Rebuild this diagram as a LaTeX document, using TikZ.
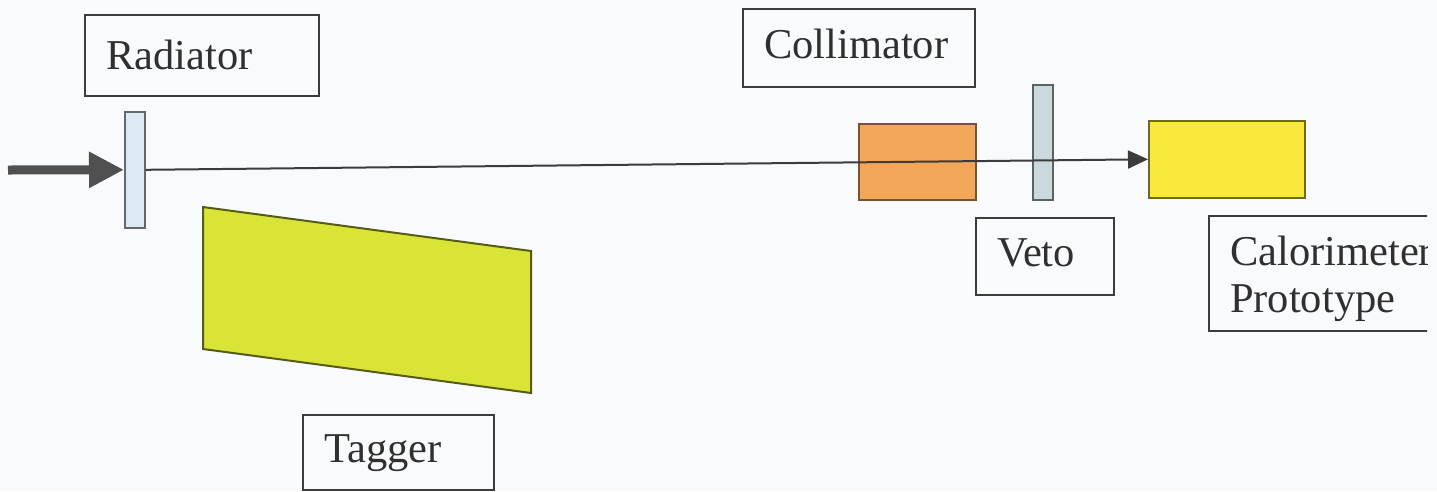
\documentclass[tikz,border=0pt]{standalone}
\usepackage{fontspec}
\setmainfont{Liberation Serif}
\usetikzlibrary{arrows.meta}
\definecolor{bgc}{HTML}{F8FAFC}
\definecolor{edgec}{HTML}{3C3C3C}
\definecolor{textc}{HTML}{303030}
\definecolor{barblue}{HTML}{DCE8F4}
\definecolor{barveto}{HTML}{C9D9DD}
\definecolor{taggerc}{HTML}{D9E436}
\definecolor{orangec}{HTML}{F2A65A}
\definecolor{yellowc}{HTML}{F9E93A}
\tikzset{
  labelbox/.style={draw=edgec, line width=2.2pt, rectangle, anchor=north west,
    align=left, inner xsep=21pt, inner ysep=0pt, text=textc,
    font=\fontsize{42.5}{47}\selectfont, text height=29pt, text depth=9pt},
  part/.style={draw=#1, line width=1.6pt, rectangle, anchor=north west, inner sep=0pt},
  beam/.style={draw=edgec, line width=2pt, -{Triangle[length=20pt,width=18pt]}},
  inbeam/.style={draw=edgec!90, line width=9pt, -{Triangle[length=35pt,width=34pt]}},
}
\begin{document}
\begin{tikzpicture}[x=1pt,y=-1pt]
\useasboundingbox (0,0) rectangle (1437,491);
\fill[bgc] (0,0) rectangle (1437,491);

% labels
\node[labelbox, minimum width=234pt, minimum height=81pt, text width=192pt, text depth=2pt] (radlab) at (84,14) {Radiator};
\node[labelbox, minimum width=232pt, minimum height=78pt, text width=190pt] (collab) at (742,8) {Collimator};
\node[labelbox, minimum width=191pt, minimum height=75pt, text width=149pt] (taglab) at (302,414) {Tagger};
\node[labelbox, minimum width=138pt, minimum height=77pt, text width=96pt] (vetolab) at (975,217) {Veto};
\begin{scope}
\clip (0,0) rectangle (1427,491);
\node[labelbox, minimum width=260pt, minimum height=115pt, text width=218pt, text depth=46pt] (callab) at (1208,215) {Calorimeter\\Prototype};
\end{scope}

% tagger magnet
\coordinate (t1) at (203,207);
\coordinate (t2) at (531,251);
\coordinate (t3) at (531,393);
\coordinate (t4) at (203,349);
\draw[draw=black!60!taggerc, line width=2pt, fill=taggerc] (t1) -- (t2) -- (t3) -- (t4) -- cycle;

% beamline parts
\node[part=black!55!barblue, fill=barblue, minimum width=20pt, minimum height=116pt] (rad) at (124,111) {};
\node[part=black!50!orangec, fill=orangec, minimum width=117pt, minimum height=76pt] (col) at (858,123) {};
\node[part=black!55!barveto, fill=barveto, minimum width=20pt, minimum height=115pt] (veto) at (1032,84) {};
\node[part=black!55!yellowc, fill=yellowc, minimum width=156pt, minimum height=77pt] (cal) at (1148,120) {};

% beams
\coordinate (src) at (8,170);
\draw[inbeam] (src) -- (rad.west);
\draw[beam] (rad.east) -- (cal.west);
\end{tikzpicture}
\end{document}
